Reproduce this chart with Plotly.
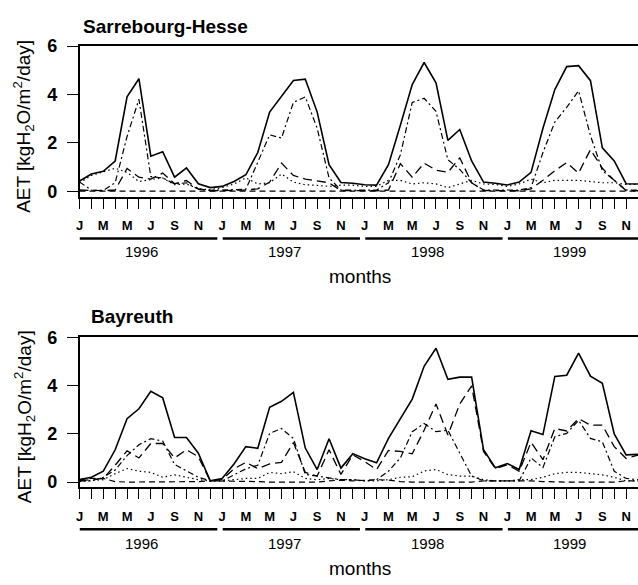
import plotly.graph_objects as go

months = list(range(48))
month_letters = ["J", "F", "M", "A", "M", "J", "J", "A", "S", "O", "N", "D"]
label_months = [i for i in months if i % 2 == 0]
month_ticktext = [month_letters[i % 12] for i in label_months]
years = ["1996", "1997", "1998", "1999"]

# ---- Sarrebourg-Hesse ----
sar_total = [0.42, 0.71, 0.82, 1.25, 3.90, 4.65, 1.45, 1.63, 0.58, 0.96, 0.31, 0.15,
             0.20, 0.40, 0.68, 1.60, 3.27, 3.94, 4.58, 4.63, 3.27, 1.10, 0.36, 0.33,
             0.27, 0.25, 1.10, 2.73, 4.41, 5.32, 4.48, 2.10, 2.55, 1.25, 0.38, 0.33,
             0.26, 0.38, 0.78, 2.60, 4.20, 5.15, 5.19, 4.57, 1.79, 1.25, 0.31, 0.30]
sar_dashdot = [0.38, 0.05, 0.03, 0.35, 2.26, 3.80, 0.60, 0.55, 0.30, 0.35, 0.08, 0.04,
               0.05, 0.05, 0.08, 1.20, 2.33, 2.20, 3.67, 3.90, 2.60, 0.55, 0.05, 0.04,
               0.05, 0.05, 0.35, 1.50, 3.67, 3.84, 3.30, 1.30, 0.90, 0.35, 0.05, 0.05,
               0.05, 0.05, 0.15, 1.60, 2.86, 3.47, 4.15, 2.30, 0.85, 0.45, 0.05, 0.05]
sar_longdash = [0.05, 0.02, 0.02, 0.05, 0.94, 0.58, 0.50, 0.75, 0.31, 0.44, 0.10, 0.02,
                0.02, 0.02, 0.05, 0.10, 0.38, 1.16, 0.65, 0.50, 0.42, 0.35, 0.03, 0.02,
                0.02, 0.02, 0.05, 1.14, 0.58, 1.16, 0.87, 0.78, 1.38, 0.35, 0.03, 0.02,
                0.02, 0.02, 0.10, 0.45, 0.85, 1.18, 0.75, 1.72, 0.95, 0.45, 0.03, 0.02]
sar_dotted = [0.35, 0.65, 0.80, 0.95, 0.78, 0.40, 0.48, 0.55, 0.27, 0.30, 0.10, 0.06,
              0.15, 0.30, 0.55, 0.30, 0.35, 0.71, 0.38, 0.27, 0.24, 0.20, 0.25, 0.25,
              0.20, 0.20, 0.45, 0.45, 0.30, 0.35, 0.30, 0.15, 0.30, 0.45, 0.30, 0.28,
              0.20, 0.30, 0.50, 0.35, 0.45, 0.45, 0.45, 0.40, 0.35, 0.35, 0.28, 0.28]
sar_dashed = [0.00, 0.00, 0.00, 0.00, 0.00, 0.00, 0.00, 0.00, 0.00, 0.00, 0.00, 0.00,
              0.00, 0.00, 0.00, 0.00, 0.00, 0.00, 0.00, 0.00, 0.00, 0.00, 0.00, 0.00,
              0.00, 0.00, 0.00, 0.00, 0.00, 0.00, 0.00, 0.00, 0.00, 0.00, 0.00, 0.00,
              0.00, 0.00, 0.00, 0.00, 0.00, 0.00, 0.00, 0.00, 0.00, 0.00, 0.00, 0.00]

# ---- Bayreuth ----
bay_total = [0.11, 0.20, 0.45, 1.34, 2.63, 3.04, 3.76, 3.49, 1.85, 1.85, 1.20, 0.05,
             0.15, 0.75, 1.47, 1.40, 3.10, 3.35, 3.72, 1.41, 0.52, 1.80, 0.58, 1.18,
             0.97, 0.80, 1.81, 2.63, 3.44, 4.80, 5.55, 4.26, 4.35, 4.35, 1.34, 0.59,
             0.77, 0.52, 2.13, 1.97, 4.38, 4.43, 5.35, 4.39, 4.10, 2.00, 1.13, 1.15]
bay_dashdot = [0.05, 0.05, 0.20, 0.50, 1.10, 1.55, 1.80, 1.70, 0.73, 0.45, 0.20, 0.05,
               0.05, 0.30, 0.55, 0.70, 2.02, 2.22, 1.81, 0.32, 0.25, 0.15, 0.10, 0.10,
               0.05, 0.10, 0.45, 1.00, 2.09, 2.43, 2.09, 2.15, 1.20, 0.25, 0.05, 0.05,
               0.05, 0.05, 1.00, 0.60, 1.88, 2.02, 2.56, 1.81, 1.67, 0.45, 0.15, 0.10]
bay_longdash = [0.05, 0.10, 0.15, 0.70, 1.30, 1.00, 1.60, 1.60, 1.00, 1.34, 1.05, 0.05,
                0.10, 0.55, 0.82, 0.56, 0.75, 0.82, 1.64, 0.40, 0.25, 1.34, 0.32, 1.13,
                0.85, 0.52, 1.31, 1.27, 1.17, 2.15, 3.24, 1.95, 3.24, 3.99, 1.27, 0.56,
                0.72, 0.45, 1.65, 0.93, 2.22, 2.12, 2.63, 2.36, 2.36, 1.47, 0.98, 1.12]
bay_dotted = [0.02, 0.05, 0.10, 0.35, 0.56, 0.45, 0.40, 0.20, 0.30, 0.20, 0.10, 0.05,
              0.05, 0.10, 0.15, 0.15, 0.40, 0.35, 0.43, 0.15, 0.10, 0.15, 0.10, 0.10,
              0.05, 0.05, 0.10, 0.20, 0.22, 0.46, 0.52, 0.31, 0.25, 0.25, 0.10, 0.05,
              0.05, 0.10, 0.10, 0.20, 0.35, 0.40, 0.40, 0.35, 0.30, 0.20, 0.05, 0.05]
bay_dashed = [0.10, 0.15, 0.15, 0.02, 0.00, 0.00, 0.00, 0.00, 0.00, 0.00, 0.02, 0.05,
              0.05, 0.05, 0.05, 0.02, 0.00, 0.00, 0.00, 0.00, 0.00, 0.05, 0.08, 0.05,
              0.08, 0.10, 0.08, 0.02, 0.00, 0.00, 0.00, 0.00, 0.00, 0.00, 0.05, 0.05,
              0.08, 0.08, 0.05, 0.02, 0.00, 0.00, 0.00, 0.00, 0.00, 0.00, 0.05, 0.05]

FONT = "Liberation Sans, Arial, Helvetica, sans-serif"
W, H = 638, 585

def py(p):  # pixel y -> paper
    return 1 - p / H

def px(p):
    return p / W

styles = [
    ("total", dict(color="black", width=1.6)),
    ("dashdot", dict(color="black", width=1.2, dash="6px,3px,2px,3px")),
    ("longdash", dict(color="black", width=1.3, dash="9px,5px")),
    ("dotted", dict(color="black", width=1.2, dash="1.5px,3px")),
    ("dashed", dict(color="black", width=1.2, dash="6px,4px")),
]

fig = go.Figure()
panels = [
    ("x", "y", [sar_total, sar_dashdot, sar_longdash, sar_dotted, sar_dashed]),
    ("x2", "y2", [bay_total, bay_dashdot, bay_longdash, bay_dotted, bay_dashed]),
]
for xa, ya, series in panels:
    for (name, ls), vals in zip(styles, series):
        fig.add_trace(go.Scatter(x=months, y=vals, mode="lines", line=ls,
                                 xaxis=xa, yaxis=ya, showlegend=False, name=name))

xcommon = dict(range=[0, 47], tickmode="array", tickvals=label_months, ticktext=month_ticktext,
               ticks="outside", ticklen=10, tickwidth=1.3, tickcolor="black",
               minor=dict(tickmode="linear", tick0=0, dtick=1, ticks="outside", ticklen=10,
                          tickwidth=1.3, tickcolor="black", showgrid=False),
               showline=True, linecolor="black", linewidth=1.5, mirror=True,
               showgrid=False, zeroline=False, ticklabelstandoff=6,
               tickfont=dict(family=FONT, size=13, color="black", weight="bold"))
ycommon = dict(tickmode="array", tickvals=[0, 2, 4, 6], ticktext=["0", "2", "4", "6"],
               ticks="outside", ticklen=11, tickwidth=1.3, tickcolor="black",
               showline=True, linecolor="black", linewidth=1.5,
               showgrid=False, zeroline=False, ticklabelstandoff=6,
               tickfont=dict(family=FONT, size=18, color="black", weight="bold"))

x0 = px(76)
fig.update_layout(
    width=W, height=H,
    margin=dict(l=0, r=0, t=0, b=0),
    paper_bgcolor="white", plot_bgcolor="white",
    font=dict(family=FONT, color="black"),
    xaxis=dict(domain=[x0, 1], anchor="y", **xcommon),
    yaxis=dict(domain=[py(192), py(37)], range=[-0.242, 6], anchor="x", **ycommon),
    xaxis2=dict(domain=[x0, 1], anchor="y2", **xcommon),
    yaxis2=dict(domain=[py(490), py(336)], range=[-0.222, 6], anchor="x2", **ycommon),
)

ann = []
shapes = []
panel_info = [
    ("x", "Sarrebourg-Hesse", 77, 17, 119, 234.5, 248, 273),
    ("x2", "Bayreuth", 86, 315, 417, 533, 548, 573),
]
for xr, title, tx, ty, ylab_y, yline, ylabel_y, months_y in panel_info:
    ann.append(dict(text="<b>%s</b>" % title, xref="paper", yref="paper", x=px(tx), y=py(ty),
                    xanchor="left", yanchor="middle", showarrow=False,
                    font=dict(family=FONT, size=19, color="black")))
    ann.append(dict(text="AET [kgH<sub>2</sub>O/m<sup>2</sup>/day]", xref="paper", yref="paper",
                    x=px(20), y=py(ylab_y), textangle=-90, xanchor="center", yanchor="middle",
                    showarrow=False, font=dict(family=FONT, size=19, color="black")))
    for k, yr in enumerate(years):
        start = 12 * k + (0 if k == 0 else 0.05)
        end = 12 * k + 11.6
        shapes.append(dict(type="line", xref=xr, yref="paper", x0=start, x1=end,
                           y0=py(yline), y1=py(yline), line=dict(color="black", width=2.5)))
        ann.append(dict(text=yr, xref=xr, yref="paper", x=12 * k + 5.25, y=py(ylabel_y),
                        xanchor="center", yanchor="middle", showarrow=False,
                        font=dict(family=FONT, size=15, color="black")))
    ann.append(dict(text="months", xref=xr, yref="paper", x=23.58, y=py(months_y),
                    xanchor="center", yanchor="middle", showarrow=False,
                    font=dict(family=FONT, size=19, color="black")))

fig.update_layout(annotations=ann, shapes=shapes)
fig.write_html("out.html")
